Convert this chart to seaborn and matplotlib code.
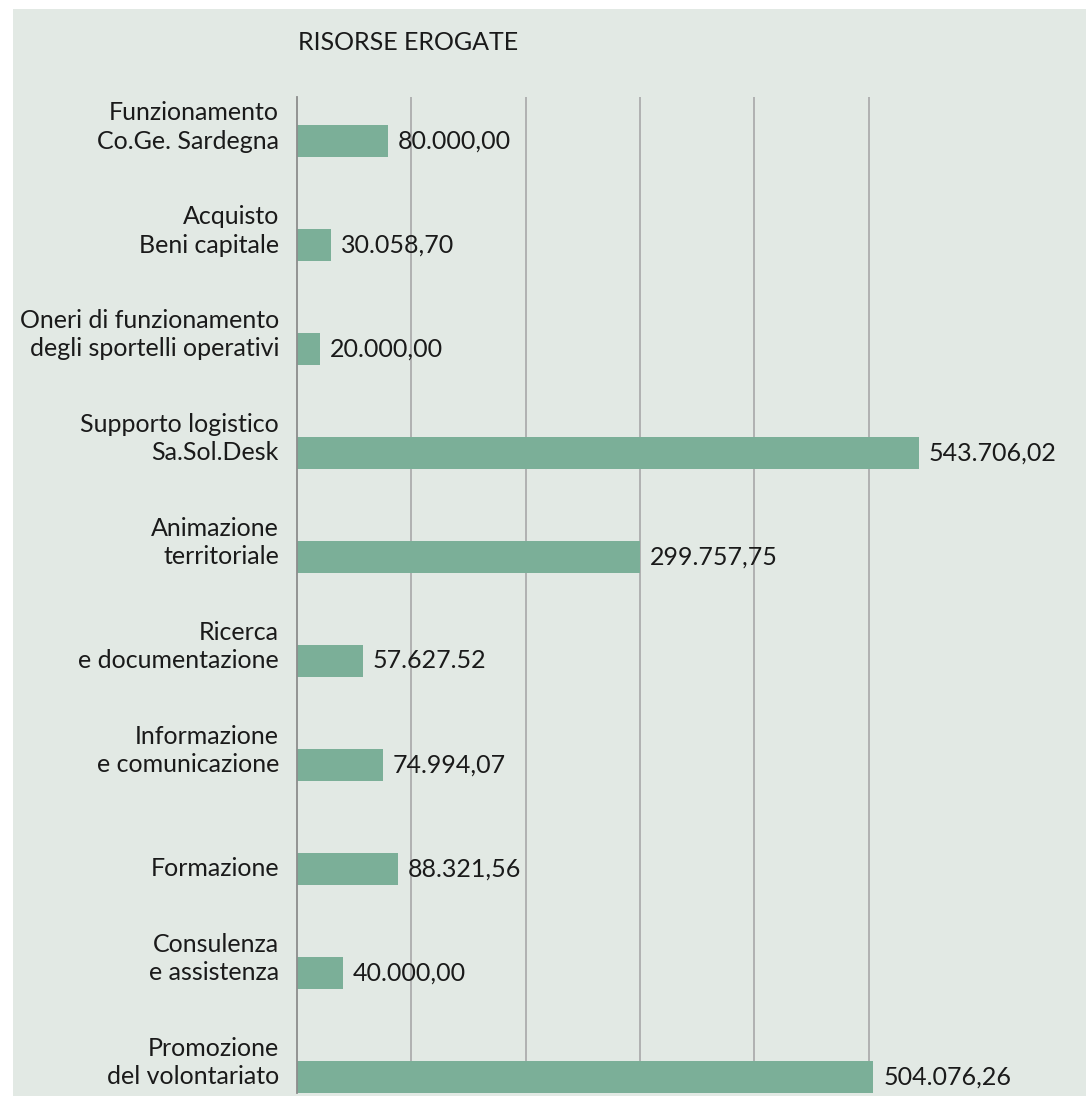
import matplotlib
matplotlib.use('Agg')
import matplotlib.pyplot as plt
from matplotlib.patches import Rectangle
import seaborn as sns
import pandas as pd

# --- data ---
categories = [
    'Funzionamento\nCo.Ge. Sardegna',
    'Acquisto\nBeni capitale',
    'Oneri di funzionamento\ndegli sportelli operativi',
    'Supporto logistico\nSa.Sol.Desk',
    'Animazione\nterritoriale',
    'Ricerca\ne documentazione',
    'Informazione\ne comunicazione',
    'Formazione',
    'Consulenza\ne assistenza',
    'Promozione\ndel volontariato',
]
values = [80000.00, 30058.70, 20000.00, 543706.02, 299757.75,
          57627.52, 74994.07, 88321.56, 40000.00, 504076.26]
value_labels = ['80.000,00', '30.058,70', '20.000,00', '543.706,02', '299.757,75',
                '57.627.52', '74.994,07', '88.321,56', '40.000,00', '504.076,26']
grid_ticks = [100000, 200000, 300000, 400000, 500000]
title = 'RISORSE EROGATE'

BG = '#e2e9e4'
BAR = '#7baf98'

df = pd.DataFrame({'category': categories, 'value': values})

# --- style ---
sns.set_theme(style='white')
plt.rcParams['font.family'] = ['Lato', 'DejaVu Sans']

fig = plt.figure(figsize=(10.86, 11), dpi=100, facecolor='white')
fig.patches.append(Rectangle((13 / 1086, 0.004), 1, 0.988, transform=fig.transFigure,
                             facecolor=BG, edgecolor='none', zorder=-10))
ax = fig.add_axes([0.2735, 0.0064, 0.7265, 0.9054])
ax.patch.set_alpha(0)

sns.barplot(data=df, x='value', y='category', orient='h', color=BAR,
            width=0.3, saturation=1, linewidth=0, ax=ax)

# wide enough so the longest value label stays inside the figure
ax.set_xlim(0, 690000)
ax.set_ylim(9.154, -0.423)
ax.set_xticks(grid_ticks)
ax.set_xticklabels([])
ax.set_yticks(range(len(categories)))
ax.set_yticklabels([])
ax.tick_params(length=0)
ax.set_xlabel('')
ax.set_ylabel('')
ax.set_axisbelow(True)
ax.grid(axis='x', color='#a8a8a8', linewidth=1.2)
ax.grid(axis='y', visible=False)
for s in ['top', 'right', 'bottom']:
    ax.spines[s].set_visible(False)
ax.spines['left'].set_color('#8c8c8c')
ax.spines['left'].set_linewidth(1.3)

# category labels, last line level with the bar
for i, cat in enumerate(categories):
    for k, line in enumerate(reversed(cat.split('\n'))):
        ax.annotate(line, xy=(0, i), xycoords=('axes fraction', 'data'),
                    xytext=(-13, 20.4 * k), textcoords='offset points',
                    ha='right', va='center', fontsize=18, color='#1a1a1a',
                    annotation_clip=False)

# value labels
for i, (v, lab) in enumerate(zip(values, value_labels)):
    ax.annotate(lab, xy=(v, i), xytext=(7, 0), textcoords='offset points',
                ha='left', va='center', fontsize=18, color='#1a1a1a',
                annotation_clip=False)

fig.text(298 / 1086, 1 - 42 / 1100, title, ha='left', va='center',
         fontsize=18, color='#1a1a1a')

fig.savefig('out.png', dpi=100)
